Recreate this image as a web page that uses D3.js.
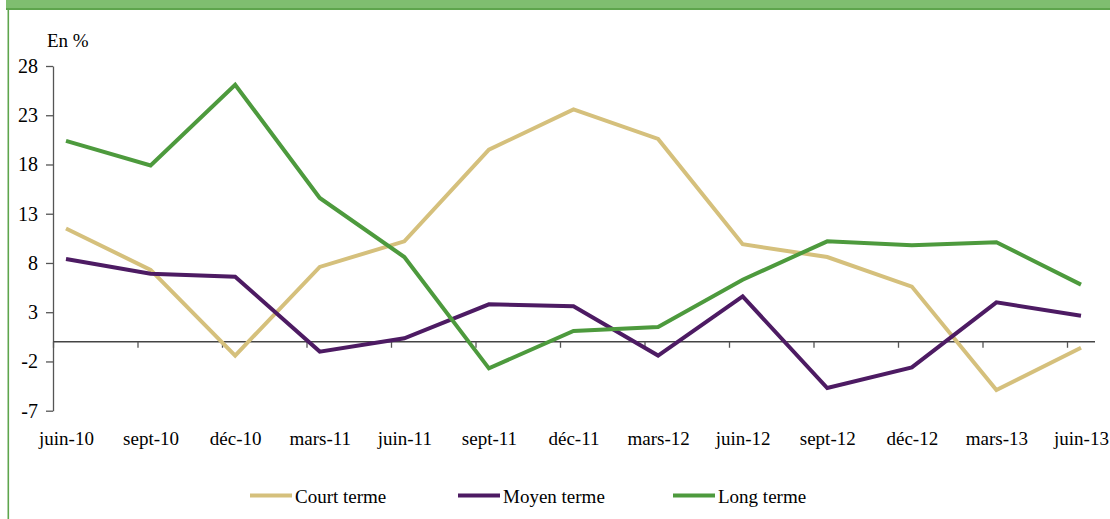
<!DOCTYPE html>
<html><head><meta charset="utf-8">
<script src="https://cdn.jsdelivr.net/npm/d3@7"></script>
<style>body{margin:0;background:#fff}svg{display:block}</style>
</head><body>
<svg id="c" width="1110" height="519"></svg>
<script>
const categories = ["juin-10","sept-10","déc-10","mars-11","juin-11","sept-11","déc-11","mars-12","juin-12","sept-12","déc-12","mars-13","juin-13"];
const courtTerme = [11.5, 7.3, -1.4, 7.6, 10.2, 19.5, 23.6, 20.6, 9.9, 8.6, 5.6, -4.9, -0.6];
const moyenTerme = [8.4, 6.9, 6.6, -1.0, 0.35, 3.8, 3.6, -1.4, 4.6, -4.7, -2.6, 4.0, 2.65];
const longTerme = [20.4, 17.9, 26.1, 14.6, 8.6, -2.7, 1.1, 1.5, 6.3, 10.2, 9.8, 10.1, 5.8];
const yTicks = [28, 23, 18, 13, 8, 3, -2, -7];
const seriesNames = ["Court terme", "Moyen terme", "Long terme"];
const colors = ["#d5c07c", "#4d1b63", "#4d9a3d"];

const svg = d3.select("#c");
// frame
svg.append("rect").attr("x", 6).attr("y", 0).attr("width", 1104).attr("height", 9).attr("fill", "#7fbe70");
svg.append("rect").attr("x", 6).attr("y", 8).attr("width", 1104).attr("height", 2).attr("fill", "#5ea54d");
svg.append("rect").attr("x", 7.5).attr("y", 9).attr("width", 1.6).attr("height", 510).attr("fill", "#5ea54d");

const y = d3.scaleLinear().domain([-7, 28]).range([410.7, 66]);
const x = d3.scalePoint().domain(categories).range([66, 1081]);
const xt = d3.scalePoint().domain(categories).range([53, 1067]);
const y0 = y(0);

// y axis
const ya = svg.append("g").attr("transform", "translate(53,0)")
  .call(d3.axisLeft(y).tickValues(yTicks).tickSizeInner(7).tickSizeOuter(0).tickPadding(8).tickFormat(d => String(d)));
ya.select(".domain").attr("stroke", "#555").attr("stroke-width", 1.3);
ya.selectAll(".tick line").attr("stroke", "#555").attr("stroke-width", 1.3);
ya.selectAll("text").attr("font-family", "Liberation Serif").attr("font-size", 20).attr("fill", "#000");

// x axis line at zero with tick marks
svg.append("line").attr("x1", 53).attr("x2", 1095).attr("y1", y0).attr("y2", y0).attr("stroke", "#444").attr("stroke-width", 1.3);
const xa = svg.append("g").attr("transform", `translate(0,${y0})`)
  .call(d3.axisBottom(xt).tickSizeInner(6).tickSizeOuter(0).tickFormat(""));
xa.select(".domain").remove();
xa.selectAll(".tick line").attr("stroke", "#555").attr("stroke-width", 1.3);

// x labels
const xl = svg.append("g").attr("transform", "translate(0,431)")
  .call(d3.axisBottom(x).tickSize(0).tickPadding(0));
xl.select(".domain").remove();
xl.selectAll("text").attr("font-family", "Liberation Serif").attr("font-size", 19).attr("fill", "#000").attr("dy", "0.75em");

// En %
svg.append("text").attr("x", 47).attr("y", 47).text("En %").attr("font-family", "Liberation Serif").attr("font-size", 19).attr("fill", "#000");

const line = d3.line().x((d, i) => x(categories[i])).y(d => y(d));
const data = [courtTerme, moyenTerme, longTerme];
data.forEach((s, k) => {
  svg.append("path").datum(s).attr("d", line).attr("fill", "none")
    .attr("stroke", colors[k]).attr("stroke-width", 4).attr("stroke-linejoin", "miter");
});

// legend
const legX = [250, 458, 673];
seriesNames.forEach((n, k) => {
  const g = svg.append("g").attr("transform", `translate(${legX[k]},495.5)`);
  g.append("line").attr("x1", 0).attr("x2", 42).attr("y1", 0).attr("y2", 0).attr("stroke", colors[k]).attr("stroke-width", 4);
  g.append("text").attr("x", 45).attr("y", 7).text(n).attr("font-family", "Liberation Serif").attr("font-size", 19).attr("fill", "#000");
});
</script>
</body></html>
